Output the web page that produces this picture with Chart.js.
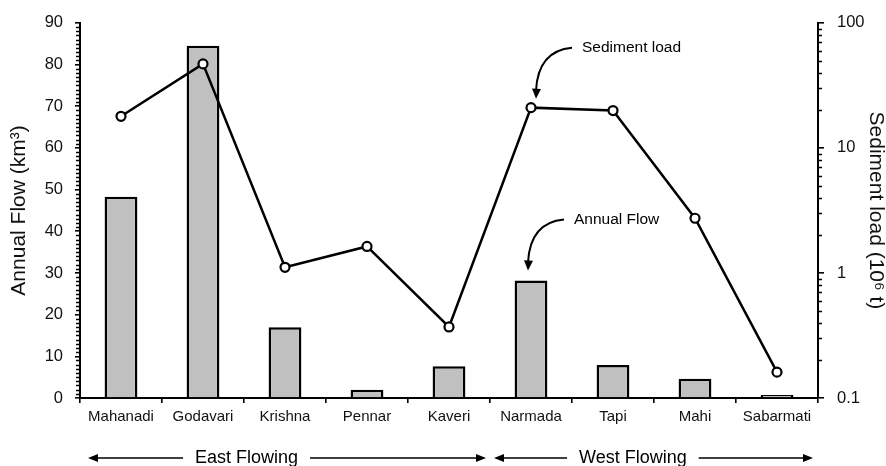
<!DOCTYPE html>
<html>
<head>
<meta charset="utf-8">
<script src="https://cdn.jsdelivr.net/npm/chart.js@4.4.1/dist/chart.umd.min.js"></script>
<style>
  html, body { margin: 0; padding: 0; background: #fff; }
  #wrap { width: 886px; height: 466px; }
</style>
</head>
<body>
<div id="wrap"><canvas id="chart" width="886" height="466"></canvas></div>
<script>
const rivers = ['Mahanadi', 'Godavari', 'Krishna', 'Pennar', 'Kaveri', 'Narmada', 'Tapi', 'Mahi', 'Sabarmati'];
const annualFlow = [48.3, 84.5, 17.0, 2.0, 7.6, 28.2, 7.9, 4.6, 0.7];
const sedimentLoad = [17.9, 47, 1.11, 1.63, 0.37, 21, 19.9, 2.74, 0.161];
const flowTicks = [0, 10, 20, 30, 40, 50, 60, 70, 80, 90];
const loadTicks = [0.1, 1, 10, 100];
const groups = ['East Flowing', 'West Flowing'];

const FONT = '"Liberation Sans", Arial, sans-serif';
const INK = '#000';

function arrowHead(ctx, x, y, angle, len, half) {
    ctx.save();
    ctx.translate(x, y);
    ctx.rotate(angle);
    ctx.beginPath();
    ctx.moveTo(0, 0);
    ctx.lineTo(-len, -half);
    ctx.lineTo(-len, half);
    ctx.closePath();
    ctx.fill();
    ctx.restore();
}

function curvedPointer(ctx, tip, label) {
    const sx = tip.x + 36, sy = tip.y - 51;
    const cx = tip.x + 2, cy = tip.y - 48;
    ctx.beginPath();
    ctx.moveTo(sx, sy);
    ctx.quadraticCurveTo(cx, cy, tip.x, tip.y - 8);
    ctx.stroke();
    arrowHead(ctx, tip.x, tip.y, Math.PI / 2 + 0.05, 10, 4.5);
    ctx.font = '15.5px ' + FONT;
    ctx.textBaseline = 'middle';
    ctx.textAlign = 'left';
    ctx.fillText(label, tip.x + 46, sy);
}

function flowArrow(ctx, x0, x1, y, label, textOffset) {
    ctx.font = '18px ' + FONT;
    ctx.textBaseline = 'middle';
    ctx.textAlign = 'left';
    const w = ctx.measureText(label).width;
    const tx = x0 + textOffset;
    ctx.fillText(label, tx, y);
    ctx.lineWidth = 1.6;
    ctx.beginPath();
    ctx.moveTo(x0 + 4, y);
    ctx.lineTo(tx - 12, y);
    ctx.moveTo(tx + w + 12, y);
    ctx.lineTo(x1 - 4, y);
    ctx.stroke();
    arrowHead(ctx, x0, y, Math.PI, 10, 4);
    arrowHead(ctx, x1, y, 0, 10, 4);
}

const extras = {
    id: 'extras',
    afterDraw(chart) {
        const ctx = chart.ctx;
        const x = chart.scales.x, yL = chart.scales.yL, yR = chart.scales.yR;
        const area = chart.chartArea;
        ctx.save();
        ctx.strokeStyle = INK;
        ctx.fillStyle = INK;

        // minor ticks, left axis
        ctx.lineWidth = 1.4;
        ctx.beginPath();
        for (let v = 0; v <= 90; v++) {
            if (v % 10 === 0) continue;
            const py = Math.round(yL.getPixelForValue(v)) + 0.5;
            ctx.moveTo(area.left - 4, py);
            ctx.lineTo(area.left, py);
        }
        // minor ticks, right log axis
        for (let d = 0.1; d < 100; d *= 10) {
            for (let k = 2; k <= 9; k++) {
                const py = Math.round(yR.getPixelForValue(k * d)) + 0.5;
                ctx.moveTo(area.right, py);
                ctx.lineTo(area.right + 4, py);
            }
        }
        ctx.stroke();

        // pointers
        ctx.lineWidth = 2;
        const n = rivers.indexOf('Narmada');
        const px = x.getPixelForValue(n);
        curvedPointer(ctx, { x: px + 5, y: yR.getPixelForValue(sedimentLoad[n]) - 9 }, 'Sediment load');
        curvedPointer(ctx, { x: px - 3, y: yL.getPixelForValue(annualFlow[n]) - 10 }, 'Annual Flow');

        // east / west flowing
        const split = (x.getPixelForValue(4) + x.getPixelForValue(5)) / 2;
        const ay = 458;
        flowArrow(ctx, area.left + 8, split - 4, ay, groups[0], 107);
        flowArrow(ctx, split + 4, area.right - 5, ay, groups[1], 85);
        ctx.restore();
    }
};

Chart.defaults.font.family = FONT;
Chart.defaults.color = '#111';

new Chart(document.getElementById('chart').getContext('2d'), {
    data: {
        labels: rivers,
        datasets: [{
            type: 'line',
            label: 'Sediment load',
            data: sedimentLoad,
            yAxisID: 'yR',
            borderColor: INK,
            borderWidth: 2.5,
            pointRadius: 4.5,
            pointBorderWidth: 2.2,
            pointBackgroundColor: '#fff',
            pointBorderColor: INK,
            tension: 0,
            order: 0
        }, {
            type: 'bar',
            label: 'Annual Flow',
            data: annualFlow,
            yAxisID: 'yL',
            backgroundColor: '#c0c0c0',
            borderColor: INK,
            borderWidth: 2.5,
            barPercentage: 0.4,
            categoryPercentage: 1,
            order: 1
        }]
    },
    options: {
        responsive: false,
        animation: false,
        devicePixelRatio: 1,
        layout: { padding: { top: 22, left: 0, right: 0, bottom: 0 } },
        plugins: { legend: { display: false }, tooltip: { enabled: false } },
        scales: {
            x: {
                offset: true,
                grid: { offset: true, drawOnChartArea: false, tickLength: 5, color: INK, lineWidth: 1.6 },
                border: { color: INK, width: 2 },
                ticks: { font: { size: 15 }, padding: 5, maxRotation: 0, autoSkip: false },
                afterFit(s) { s.height = 68; }
            },
            yL: {
                position: 'left',
                min: 0,
                max: 90,
                afterBuildTicks(s) { s.ticks = flowTicks.map(v => ({ value: v })); },
                grid: { drawOnChartArea: false, tickLength: 5, color: INK, lineWidth: 1.6 },
                border: { color: INK, width: 2 },
                ticks: { font: { size: 16.5 }, padding: 12 },
                title: { display: true, text: 'Annual Flow (km³)', font: { size: 21, lineHeight: 1 }, padding: { top: 9, bottom: 0 } },
                afterFit(s) { s.width = 80; }
            },
            yR: {
                type: 'logarithmic',
                position: 'right',
                min: 0.1,
                max: 100,
                afterBuildTicks(s) { s.ticks = loadTicks.map(v => ({ value: v })); },
                grid: { drawOnChartArea: false, tickLength: 6, color: INK, lineWidth: 1.6 },
                border: { color: INK, width: 2 },
                ticks: { font: { size: 16.5 }, padding: 13, callback: v => String(v) },
                title: { display: true, text: 'Sediment load (10⁶ t)', font: { size: 21, lineHeight: 1 }, padding: { top: 0, bottom: 0 } },
                afterFit(s) { s.width = 68; }
            }
        }
    },
    plugins: [extras]
});
</script>
</body>
</html>
